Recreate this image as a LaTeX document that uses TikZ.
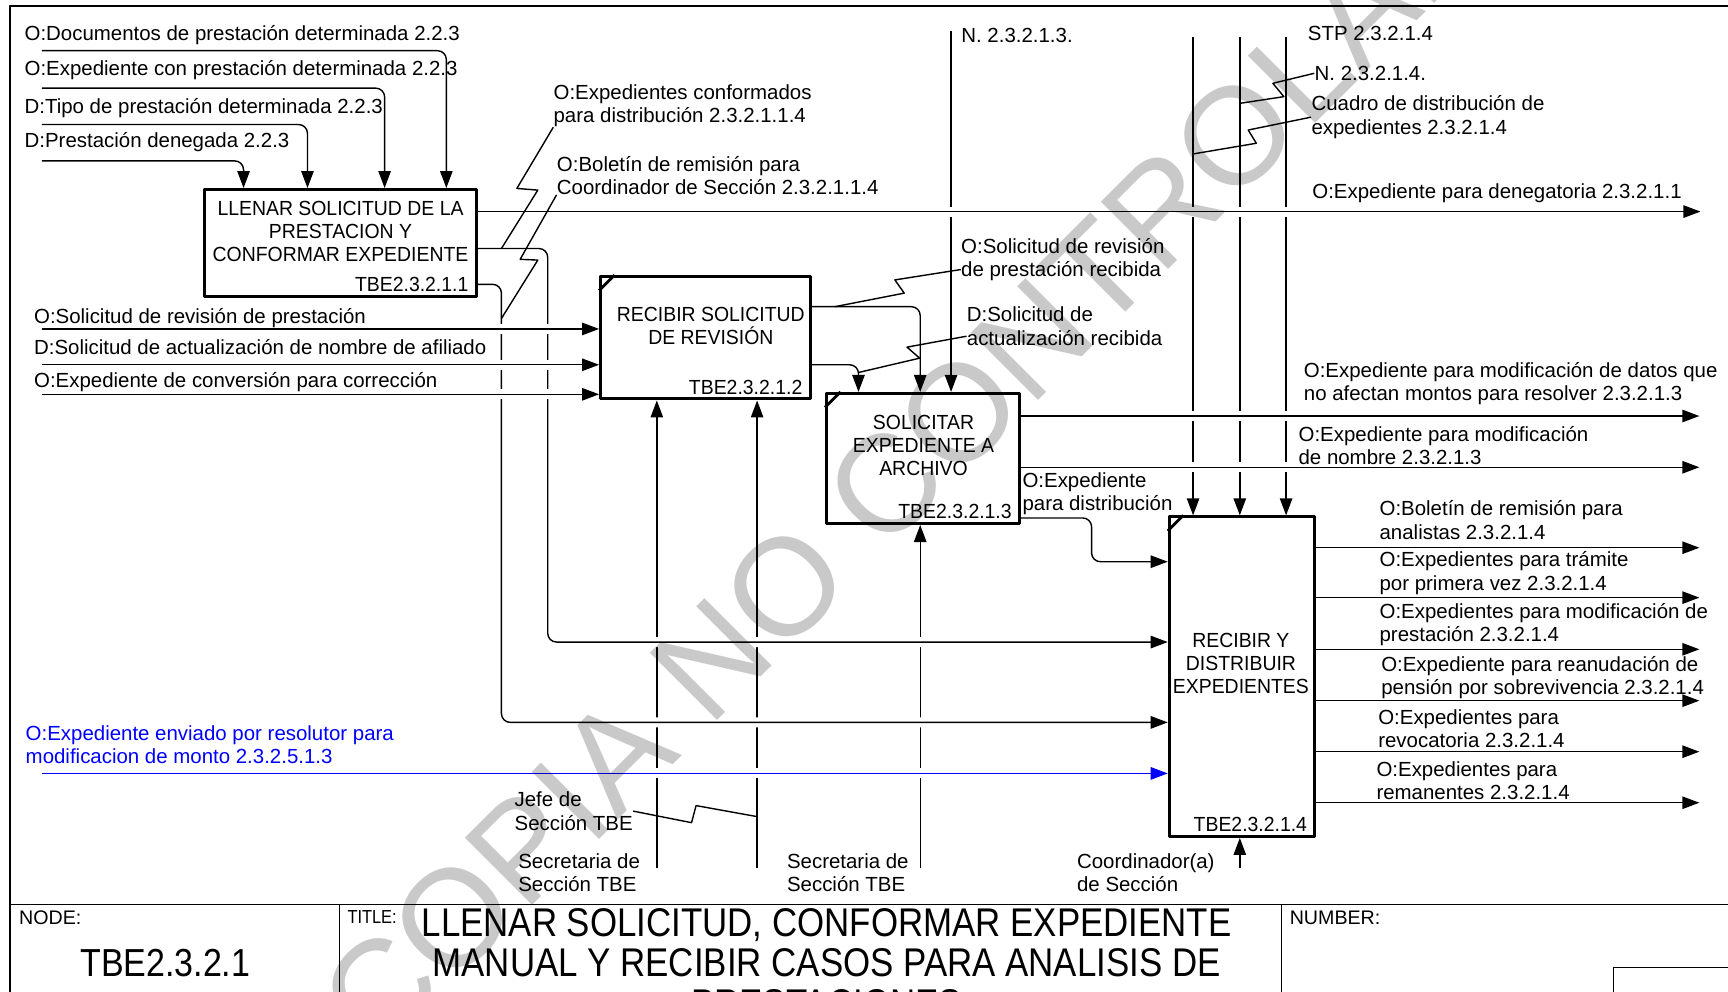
\documentclass[tikz,border=0pt]{standalone}
\usepackage{fontspec}
\setmainfont{Liberation Sans}
\newfontfamily\narrowfont[FakeStretch=0.87]{Liberation Sans}
\newfontfamily\boxfont[FakeStretch=0.95]{Liberation Sans}
\usetikzlibrary{arrows.meta, fit}

\tikzset{
  flow/.style={line width=0.7pt, rounded corners=4.4pt, -{Triangle[length=8.5pt, width=6.2pt]}},
  line/.style={line width=0.7pt},
  over/.style={preaction={draw=white, line width=5pt, arrows=-}},
  activity/.style={draw, line width=1.5pt, inner sep=0pt},
  lbl/.style={anchor=west, inner sep=0pt, align=left},
  boxtext/.style={align=center, inner sep=0pt, font=\boxfont\fontsize{10.2}{11.6}\selectfont},
  idtext/.style={anchor=base east, inner sep=0pt, xshift=-4.4pt, yshift=3pt, font=\boxfont\fontsize{10.2}{11.6}\selectfont},
}

\begin{document}
\begin{tikzpicture}[x=0.55pt, y=-0.55pt, font=\fontsize{10.2}{11.6}\selectfont, line join=round]

    % page 1568 x 900, y grows downwards
    \clip (0,0) rectangle (1568,900);

    % Activity boxes (IDEF0)
    \node[activity, fit={(186,172) (432,269)}]   (b1) {};
    \node[activity, fit={(545,251) (735,362)}]   (b2) {};
    \node[activity, fit={(750,357) (925,475)}]   (b3) {};
    \node[activity, fit={(1061,469) (1193,759)}] (b4) {};

    % Free ends of the arrows
    \coordinate (i1) at (38,46);     \coordinate (c1) at (405,46);
    \coordinate (i2) at (38,80);     \coordinate (c2) at (349,80);
    \coordinate (i3) at (38,113);    \coordinate (c3) at (279,113);
    \coordinate (i4) at (38,146);    \coordinate (c4) at (221,146);
    \coordinate (i5) at (38,298.5);
    \coordinate (i6) at (38,331);
    \coordinate (i7) at (38,357.8);
    \coordinate (i8) at (38,701.8);
    \coordinate (o1) at (1543,192);
    \coordinate (k1) at (497,225.5); \coordinate (k2) at (497,582.6);
    \coordinate (k3) at (455,258);   \coordinate (k4) at (455,655.5);
    \coordinate (k5) at (835,278.3);
    \coordinate (k6) at (779,331);
    \coordinate (t1) at (863,28);
    \coordinate (t2) at (1082.6,33.3);
    \coordinate (t3) at (1125,33.3);
    \coordinate (t4) at (1167,33.3);
    \coordinate (o2) at (1542,377.5);
    \coordinate (o3) at (1542,424);
    \coordinate (k7) at (990.5,470); \coordinate (k8) at (990.5,509.7);
    \coordinate (m1) at (596,788);
    \coordinate (m2) at (687,788);
    \coordinate (m3) at (835,788);
    \coordinate (m4) at (1125,788);
    \coordinate (o4) at (1542,497);
    \coordinate (o5) at (1542,542.3);
    \coordinate (o6) at (1542,589.2);
    \coordinate (o7) at (1542,635.8);
    \coordinate (o8) at (1542,682.1);
    \coordinate (o9) at (1542,728.4);

    % Mechanisms (drawn first, horizontals cross over them)
    \draw[flow] (m1) -- (m1 |- b2.south);
    \draw[flow] (m2) -- (m2 |- b2.south);
    \draw[flow] (m3) -- (m3 |- b3.south);
    \draw[flow] (m4) -- (m4 |- b4.south);

    % Controls from the top
    \draw[flow] (t1) -- (t1 |- b3.north);
    \draw[flow] (t2) -- (t2 |- b4.north);
    \draw[flow] (t3) -- (t3 |- b4.north);
    \draw[flow] (t4) -- (t4 |- b4.north);

    % Inputs of box 1
    \draw[flow] (i1) -- (c1) -- (c1 |- b1.north);
    \draw[flow] (i2) -- (c2) -- (c2 |- b1.north);
    \draw[flow] (i3) -- (c3) -- (c3 |- b1.north);
    \draw[flow] (i4) -- (c4) -- (c4 |- b1.north);

    % Outputs of box 1
    \draw[flow, over] (b1.east |- o1) -- (o1);
    \draw[flow, over] (b1.east |- k1) -- (k1) -- (k2) -- (k2 -| b4.west);
    \draw[flow, over] (b1.east |- k3) -- (k3) -- (k4) -- (k4 -| b4.west);

    % Inputs of box 2
    \draw[flow, over] (i5) -- (i5 -| b2.west);
    \draw[flow, over] (i6) -- (i6 -| b2.west);
    \draw[flow, over] (i7) -- (i7 -| b2.west);

    % Box 2 -> box 3
    \draw[flow] (b2.east |- k5) -- (k5) -- (k5 |- b3.north);
    \draw[flow] (b2.east |- k6) -- (k6) -- (k6 |- b3.north);

    % Outputs of box 3
    \draw[flow, over] (b3.east |- o2) -- (o2);
    \draw[flow, over] (b3.east |- o3) -- (o3);
    \draw[flow] (b3.east |- k7) -- (k7) -- (k8) -- (k8 -| b4.west);

    % Input from resolutor
    \draw[flow, over, blue] (i8) -- (i8 -| b4.west);

    % Outputs of box 4
    \draw[flow] (b4.east |- o4) -- (o4);
    \draw[flow] (b4.east |- o5) -- (o5);
    \draw[flow] (b4.east |- o6) -- (o6);
    \draw[flow] (b4.east |- o7) -- (o7);
    \draw[flow] (b4.east |- o8) -- (o8);
    \draw[flow] (b4.east |- o9) -- (o9);

    % Boxes on top of the arrow ends
    \node[activity, fit={(186,172) (432,269)}]   {};
    \node[activity, fit={(545,251) (735,362)}]   {};
    \node[activity, fit={(750,357) (925,475)}]   {};
    \node[activity, fit={(1061,469) (1193,759)}] {};
    \draw[line width=1.4pt] (b2.north west) ++(0,14) -- ++(14,-14);
    \draw[line width=1.4pt] (b3.north west) ++(0,14) -- ++(14,-14);
    \draw[line width=1.4pt] (b4.north west) ++(0,14) -- ++(14,-14);

    \node[boxtext] at (309,210) {LLENAR SOLICITUD DE LA\\PRESTACION Y\\CONFORMAR EXPEDIENTE};
    \node[idtext] at (b1.south east) {TBE2.3.2.1.1};
    \node[boxtext] at (645,296) {RECIBIR SOLICITUD\\DE REVISIÓN};
    \node[idtext] at (b2.south east) {TBE2.3.2.1.2};
    \node[boxtext] at (838,404) {SOLICITAR\\EXPEDIENTE A\\ARCHIVO};
    \node[idtext] at (b3.south east) {TBE2.3.2.1.3};
    \node[boxtext] at (1126,602) {RECIBIR Y\\DISTRIBUIR\\EXPEDIENTES};
    \node[idtext] at (b4.south east) {TBE2.3.2.1.4};

    % Arrow labels
    \node[lbl] (ldoc)   at (22,32)     {O:Documentos de prestación determinada 2.2.3};
    \node[lbl] (lexp)   at (22,64)     {O:Expediente con prestación determinada 2.2.3};
    \node[lbl] (ltipo)  at (22,98)     {D:Tipo de prestación determinada 2.2.3};
    \node[lbl] (lden)   at (22,128.6)  {D:Prestación denegada 2.2.3};
    \node[lbl] (lconf)  at (502,96)    {O:Expedientes conformados\\para distribución 2.3.2.1.1.4};
    \node[lbl] (lbolc)  at (505,159)   {O:Boletín de remisión para\\Coordinador de Sección 2.3.2.1.1.4};
    \node[lbl] (ln3)    at (872,32)    {N. 2.3.2.1.3.};
    \node[lbl] (lstp)   at (1186.5,30.5) {STP 2.3.2.1.4};
    \node[lbl] (ln4)    at (1192.6,66.5) {N. 2.3.2.1.4.};
    \node[lbl] (lcuad)  at (1189.7,106.3) {Cuadro de distribución de\\expedientes 2.3.2.1.4};
    \node[lbl] (ldeneg) at (1190.5,175) {O:Expediente para denegatoria 2.3.2.1.1};
    \node[lbl] (lsolrec) at (871.8,235.5) {O:Solicitud de revisión\\de prestación recibida};
    \node[lbl] (lactrec) at (877,296)  {D:Solicitud de\\actualización recibida};
    \node[lbl] (lsolrev) at (30.6,289) {O:Solicitud de revisión de prestación};
    \node[lbl] (lactnom) at (30.6,315) {D:Solicitud de actualización de nombre de afiliado};
    \node[lbl] (lconv)  at (30.6,346.4) {O:Expediente de conversión para corrección};
    \node[lbl] (ldatos) at (1182.8,348) {O:Expediente para modificación de datos que\\no afectan montos para resolver 2.3.2.1.3};
    \node[lbl] (lnomb)  at (1178,404.4) {O:Expediente para modificación\\de nombre 2.3.2.1.3};
    \node[lbl] (ldist)  at (927.5,448) {O:Expediente\\para distribución};
    \node[lbl] (lbolan) at (1251.5,472) {O:Boletín de remisión para\\analistas 2.3.2.1.4};
    \node[lbl] (ltram)  at (1251.5,520) {O:Expedientes para trámite\\por primera vez 2.3.2.1.4};
    \node[lbl] (lmodp)  at (1251.5,567) {O:Expedientes para modificación de\\prestación 2.3.2.1.4};
    \node[lbl] (lrean)  at (1253,614.8) {O:Expediente para reanudación de\\pensión por sobrevivencia 2.3.2.1.4};
    \node[lbl] (lrevo)  at (1250.3,661) {O:Expedientes para\\revocatoria 2.3.2.1.4};
    \node[lbl] (lrema)  at (1248.7,708.5) {O:Expedientes para\\remanentes 2.3.2.1.4};
    \node[lbl, text=blue] (lresol) at (23,675.6) {O:Expediente enviado por resolutor para\\modificacion de monto 2.3.2.5.1.3};
    \node[lbl] (ljefe)  at (466.6,736) {Jefe de\\Sección TBE};
    \node[lbl] (lsec1)  at (470,792)   {Secretaria de\\Sección TBE};
    \node[lbl] (lsec2)  at (713.8,792) {Secretaria de\\Sección TBE};
    \node[lbl] (lcoord) at (977,792)   {Coordinador(a)\\de Sección};

    % Squiggles from labels to their arrows
    \coordinate (z1) at (455,225.5);
    \coordinate (z2) at (455,289);
    \coordinate (z3) at (1125,93.8);
    \coordinate (z4) at (1082.6,139.7);
    \coordinate (z5) at (757.5,278.3);
    \coordinate (z6) at (779,338);
    \coordinate (z7) at (687,741);
    \draw[line] (lconf.south west) -- (469,171) -- (488,172.5) -- (z1);
    \draw[line] (lbolc.south west) -- (472,235.3) -- (488,236) -- (z2);
    \draw[line] (ln4.west) -- (1155,75.6) -- (1165,87.7) -- (z3);
    \draw[line] (lcuad.west) -- (1132.6,118) -- (1140,130) -- (z4);
    \draw[line] ([yshift=-5pt]lsolrec.west) -- (812,254) -- (820.5,266) -- (z5);
    \draw[line] ([yshift=-5pt]lactrec.west) -- (823,315) -- (834.5,325) -- (z6);
    \draw[line] (ljefe.east) -- (627.5,746.5) -- (631.6,731) -- (z7);

    % Frame and title block
    \draw[line] (9,905) -- (9,5.5) -- (1575,5.5);
    \draw[line] (9,821) -- (1575,821);
    \draw[line] (308,821) -- (308,905);
    \draw[line] (1163,821) -- (1163,905);
    \draw[line] (1464,905) -- (1464,878) -- (1575,878);

    \node[anchor=west, inner sep=0pt, font=\fontsize{9.8}{11}\selectfont] (nodelbl) at (17,833) {NODE:};
    \node[font=\narrowfont\fontsize{19.5}{20}\selectfont] (nodeid) at (150,874) {TBE2.3.2.1};
    \node[anchor=west, inner sep=0pt, font=\narrowfont\fontsize{9.4}{10}\selectfont] (titlelbl) at (315,832) {TITLE:};
    \node[align=center, inner sep=0pt, font=\narrowfont\fontsize{20}{20.3}\selectfont] (title) at (750,874)
        {LLENAR SOLICITUD, CONFORMAR EXPEDIENTE\\MANUAL Y RECIBIR CASOS PARA ANALISIS DE\\PRESTACIONES};
    \node[anchor=west, inner sep=0pt, font=\fontsize{9.8}{11}\selectfont] (numlbl) at (1170,832.4) {NUMBER:};

    % Watermark
    \begin{scope}[blend mode=multiply]
        \node[text=gray!42, font=\fontsize{69}{69}\selectfont, rotate=45] (wm) at (850,394) {COPIA NO CONTROLADA};
    \end{scope}

\end{tikzpicture}
\end{document}
